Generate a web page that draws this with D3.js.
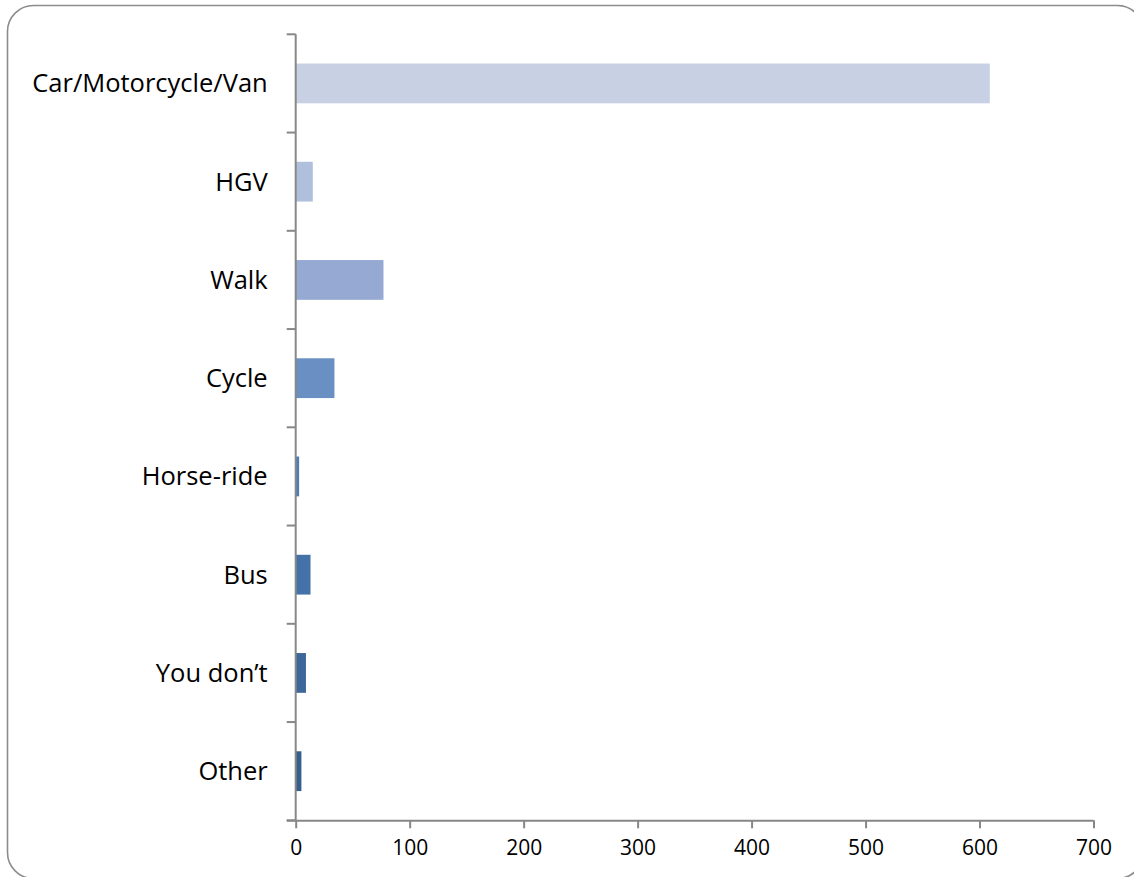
<!DOCTYPE html>
<html>
<head>
<meta charset="utf-8">
<script src="https://cdn.jsdelivr.net/npm/d3@7"></script>
<style>
  html, body { margin: 0; padding: 0; background: #fff; }
  svg { display: block; }
  text { font-family: "Open Sans", Lato, sans-serif; fill: #000; }
</style>
</head>
<body>
<svg id="chart" width="1134" height="877"></svg>
<script>
const categories = ["Car/Motorcycle/Van", "HGV", "Walk", "Cycle", "Horse-ride", "Bus", "You don\u2019t", "Other"];
const values = [609, 15, 77, 34, 3, 13, 9, 5];
const barColors = ["#c8d1e4", "#afc0dc", "#95a9d2", "#6a8fc3", "#4a7ebb", "#4472a8", "#3e6799", "#355d8e"];
const xTicks = [0, 100, 200, 300, 400, 500, 600, 700];

(function () {
const svg = d3.select("#chart");

// outer rounded border
svg.append("rect")
  .attr("x", 7.5).attr("y", 5.5)
  .attr("width", 1136).attr("height", 873)
  .attr("rx", 26).attr("ry", 26)
  .attr("fill", "#fff")
  .attr("stroke", "#8c8c8c")
  .attr("stroke-width", 1.6);

const plotLeft = 295.7, plotRight = 1093.5, plotTop = 34.3, plotBottom = 820.3;
const pad = 0.595;

const x = d3.scaleLinear().domain([0, 700]).range([plotLeft, plotRight]);
const y = d3.scaleBand().domain(categories).range([plotTop, plotBottom])
  .paddingInner(pad).paddingOuter(pad / 2);

// bars
svg.append("g").selectAll("rect")
  .data(categories)
  .join("rect")
  .attr("x", x(0))
  .attr("y", d => y(d))
  .attr("width", (d, i) => x(values[i]) - x(0))
  .attr("height", y.bandwidth())
  .attr("fill", (d, i) => barColors[i]);

const axisColor = "#878787";

// y axis line
svg.append("line")
  .attr("x1", plotLeft).attr("x2", plotLeft)
  .attr("y1", plotTop).attr("y2", plotBottom)
  .attr("stroke", axisColor).attr("stroke-width", 2);

// y ticks at band boundaries
const step = y.step();
const boundaries = categories.map(d => y(d) - step * pad / 2).concat([plotBottom]);
svg.append("g").selectAll("line")
  .data(boundaries)
  .join("line")
  .attr("x1", plotLeft - 9).attr("x2", plotLeft)
  .attr("y1", d => d).attr("y2", d => d)
  .attr("stroke", axisColor).attr("stroke-width", 2);

// category labels
svg.append("g").selectAll("text")
  .data(categories)
  .join("text")
  .attr("x", plotLeft - 28)
  .attr("y", d => y(d) + y.bandwidth() / 2)
  .attr("dy", "0.35em")
  .attr("text-anchor", "end")
  .attr("font-size", 25.5)
  .text(d => d);

// x axis
const xAxis = d3.axisBottom(x).tickValues(xTicks).tickSize(8).tickPadding(12).tickFormat(d3.format("d"));
const gx = svg.append("g")
  .attr("transform", `translate(0,${plotBottom})`)
  .call(xAxis);
gx.select(".domain").attr("stroke", axisColor).attr("stroke-width", 2)
  .attr("d", `M${plotLeft - 9},0.5H${plotRight}`);
gx.selectAll(".tick line").attr("stroke", axisColor).attr("stroke-width", 2);
gx.selectAll(".tick text")
  .attr("font-size", 21)
  .attr("font-family", "'Open Sans', Lato, sans-serif")
  .attr("fill", "#000");
})();
</script>
</body>
</html>
